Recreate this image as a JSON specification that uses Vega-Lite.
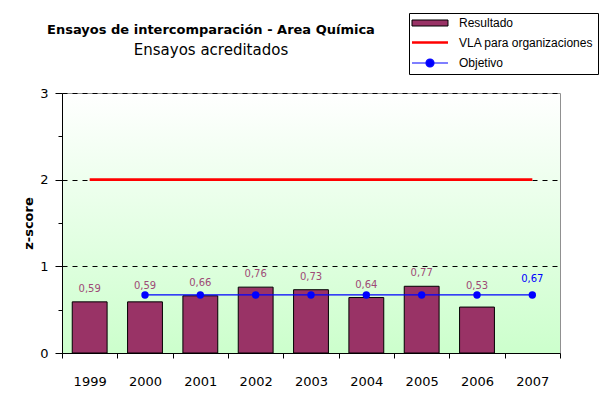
{
  "$schema": "https://vega.github.io/schema/vega-lite/v6.json",
  "width": 498,
  "height": 260,
  "autosize": {"type": "none"},
  "padding": {"left": 62, "top": 93, "right": 39, "bottom": 52},
  "background": "white",
  "view": {
    "stroke": "#909090",
    "strokeWidth": 1,
    "fill": {"gradient": "linear", "x1": 0, "y1": 0, "x2": 0, "y2": 1,
      "stops": [{"offset": 0, "color": "#ffffff"}, {"offset": 1, "color": "#ccffcc"}]}
  },
  "title": {
    "text": "Ensayos de intercomparación - Area Química",
    "subtitle": "Ensayos acreditados\u00a0\u00a0\u00a0\u00a0\u00a0\u00a0\u00a0\u00a0\u00a0\u00a0",
    "font": "DejaVu Sans",
    "fontSize": 13,
    "fontWeight": "bold",
    "color": "black",
    "subtitleFont": "DejaVu Sans",
    "subtitleFontSize": 15,
    "subtitleColor": "black",
    "subtitlePadding": 6,
    "anchor": "middle",
    "dx": -100,
    "offset": -45
  },
  "data": {
    "values": [
      {"year": "1999", "resultado": 0.59, "vla": 2, "objetivo": null},
      {"year": "2000", "resultado": 0.59, "vla": 2, "objetivo": 0.67},
      {"year": "2001", "resultado": 0.66, "vla": 2, "objetivo": 0.67},
      {"year": "2002", "resultado": 0.76, "vla": 2, "objetivo": 0.67},
      {"year": "2003", "resultado": 0.73, "vla": 2, "objetivo": 0.67},
      {"year": "2004", "resultado": 0.64, "vla": 2, "objetivo": 0.67},
      {"year": "2005", "resultado": 0.77, "vla": 2, "objetivo": 0.67},
      {"year": "2006", "resultado": 0.53, "vla": 2, "objetivo": 0.67},
      {"year": "2007", "resultado": null, "vla": 2, "objetivo": 0.67}
    ]
  },
  "encoding": {
    "x": {
      "field": "year", "type": "nominal",
      "scale": {"paddingInner": 0, "paddingOuter": 0},
      "axis": {
        "title": null, "labelAngle": 0, "tickBand": "extent",
        "domainColor": "black", "tickColor": "black", "tickSize": 5,
        "labelFont": "DejaVu Sans", "labelFontSize": 13, "labelColor": "black",
        "labelPadding": 17, "grid": false
      }
    }
  },
  "layer": [
    {
      "mark": {"type": "bar", "width": {"band": 0.63}, "stroke": "black", "strokeWidth": 1},
      "encoding": {
        "y": {
          "field": "resultado", "type": "quantitative",
          "scale": {"domain": [0, 3], "nice": false},
          "axis": {
            "title": "z-score",
            "titleFont": "DejaVu Sans", "titleFontSize": 13, "titleFontWeight": "bold", "titleColor": "black",
            "titlePadding": 4,
            "values": [0, 0.5, 1, 1.5, 2, 2.5, 3],
            "format": "~g",
            "labelExpr": "datum.value % 1 === 0 ? datum.label : ''",
            "labelFont": "DejaVu Sans", "labelFontSize": 13, "labelColor": "black",
            "labelPadding": 7,
            "domainColor": "black", "tickColor": "black",
            "tickSize": {"condition": {"test": "datum.value % 1 === 0", "value": 7}, "value": 4},
            "grid": true, "gridColor": "black", "gridDash": [5, 5],
            "gridOpacity": {"condition": {"test": "datum.value % 1 === 0 && datum.value > 0", "value": 1}, "value": 0}
          }
        },
        "fill": {
          "datum": "Resultado",
          "scale": {
            "domain": ["Resultado", "VLA para organizaciones", "Objetivo"],
            "range": ["#993366", "#ff0000", "#0000ff"]
          },
          "legend": {
            "title": null,
            "orient": "none",
            "legendX": 347,
            "legendY": -80,
            "strokeColor": "black",
            "fillColor": "white",
            "padding": 4,
            "rowPadding": 7.5,
            "symbolSize": 196,
            "symbolOffset": 11,
            "labelOffset": 23,
            "labelFont": "Liberation Sans",
            "labelFontSize": 12,
            "labelColor": "black",
            "labelLimit": 0,
            "encoding": {
              "symbols": {
                "shape": {"value": {"expr": "datum.value === 'Resultado' ? 'M-2.57,-0.43H2.57V0.43H-2.57Z' : (datum.value === 'Objetivo' ? 'M-2.57,0H2.57M0.57,0A0.57,0.57,0,1,1,-0.57,0A0.57,0.57,0,1,1,0.57,0' : 'M-2.57,0H2.57')"}},
                "fill": {"value": {"expr": "datum.value === 'Resultado' ? '#993366' : (datum.value === 'Objetivo' ? '#0000ff' : 'transparent')"}},
                "stroke": {"value": {"expr": "datum.value === 'Resultado' ? 'black' : (datum.value === 'Objetivo' ? '#0000ff' : '#ff0000')"}},
                "strokeWidth": {"value": {"expr": "datum.value === 'Resultado' ? 1 : (datum.value === 'Objetivo' ? 1.2 : 2.5)"}},
                "opacity": {"value": 1}
              }
            }
          }
        }
      }
    },
    {
      "mark": {"type": "line", "color": "#ff0000", "strokeWidth": 2.8},
      "encoding": {"y": {"field": "vla", "type": "quantitative"}}
    },
    {
      "mark": {"type": "line", "color": "#0000ff", "strokeWidth": 1.25},
      "encoding": {"y": {"field": "objetivo", "type": "quantitative"}}
    },
    {
      "mark": {"type": "point", "filled": true, "color": "#0000ff", "size": 55, "opacity": 1},
      "encoding": {"y": {"field": "objetivo", "type": "quantitative"}}
    },
    {
      "transform": [{"filter": "indexof(['1999','2001','2002','2003','2004','2005'], datum.year) >= 0"}],
      "mark": {"type": "text", "dy": -13, "font": "DejaVu Sans", "fontSize": 10, "color": "#9e4a76"},
      "encoding": {
        "y": {"field": "resultado", "type": "quantitative"},
        "text": {"field": "resultado", "type": "quantitative", "format": ".2f"}
      }
    },
    {
      "transform": [{"filter": "datum.year === '2000' || datum.year === '2006'"}],
      "mark": {"type": "text", "dy": -9, "font": "DejaVu Sans", "fontSize": 10, "color": "#9e4a76"},
      "encoding": {
        "y": {"field": "objetivo", "type": "quantitative"},
        "text": {"field": "resultado", "type": "quantitative", "format": ".2f"}
      }
    },
    {
      "transform": [{"filter": "datum.year === '2007'"}],
      "mark": {"type": "text", "dy": -16, "font": "DejaVu Sans", "fontSize": 10, "color": "#0000ff"},
      "encoding": {
        "y": {"field": "objetivo", "type": "quantitative"},
        "text": {"field": "objetivo", "type": "quantitative", "format": ".2f"}
      }
    }
  ],
  "config": {
    "locale": {
      "number": {"decimal": ",", "thousands": ".", "grouping": [3], "currency": ["", " €"]}
    }
  }
}
